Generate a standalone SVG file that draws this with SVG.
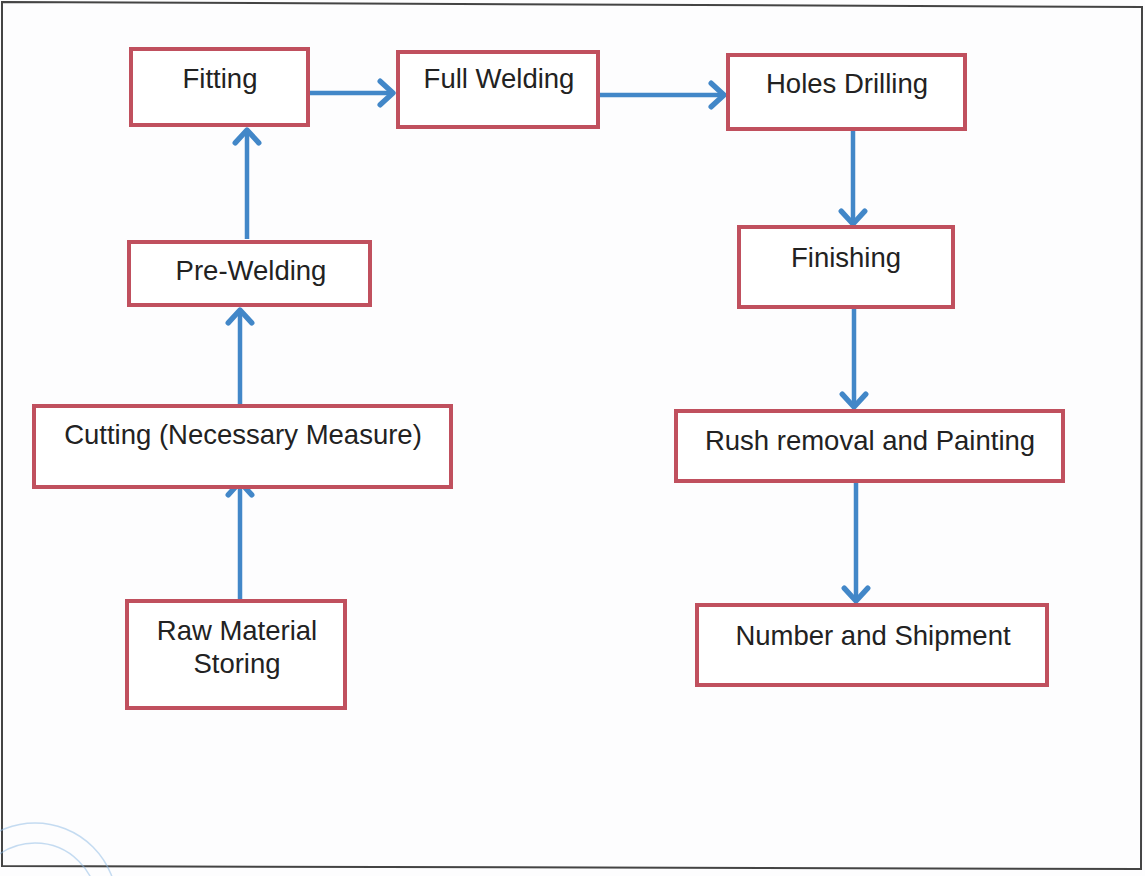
<svg xmlns="http://www.w3.org/2000/svg" width="1145" height="876" viewBox="0 0 1145 876">
<style>
.box{fill:#ffffff;stroke:#c0505e;stroke-width:4}
.lbl{font-family:"Liberation Sans",Arial,sans-serif;font-size:27.5px;fill:#222222;text-anchor:middle}
.conn{stroke:#4287c8;stroke-width:4.5;fill:none}
</style>
<defs>
<marker id="ah" markerWidth="30" markerHeight="30" viewBox="-16 -14 18 28" refX="0" refY="0" orient="auto" markerUnits="userSpaceOnUse">
<path d="M-12,-11 L0,0 L-12,11" fill="none" stroke="#4287c8" stroke-width="5" stroke-linecap="round" stroke-linejoin="round"/>
</marker>
</defs>
<rect width="1145" height="876" fill="#fdfdfe"/>
<polygon points="2,2 1142,7 1141,869 2,866" fill="none" stroke="#444444" stroke-width="2"/>
<g id="stamp" opacity="0.5" fill="none" stroke="#8dbbe6" stroke-width="1.5">
<circle cx="35" cy="905" r="82"/>
<circle cx="35" cy="905" r="62"/>
</g>
<g id="connectors">
<line class="conn" x1="310" y1="93" x2="393" y2="93" marker-end="url(#ah)"/>
<line class="conn" x1="600" y1="95" x2="724" y2="95" marker-end="url(#ah)"/>
<line class="conn" x1="247" y1="239" x2="247" y2="130" marker-end="url(#ah)"/>
<line class="conn" x1="240" y1="404" x2="240" y2="310" marker-end="url(#ah)"/>
<line class="conn" x1="240" y1="599" x2="240" y2="482" marker-end="url(#ah)"/>
<line class="conn" x1="853" y1="131" x2="853" y2="224" marker-end="url(#ah)"/>
<line class="conn" x1="854" y1="309" x2="854" y2="407" marker-end="url(#ah)"/>
<line class="conn" x1="856" y1="483" x2="856" y2="601" marker-end="url(#ah)"/>
</g>
<g id="fitting"><rect class="box" x="131" y="49" width="177" height="76"/><text class="lbl" x="220" y="88">Fitting</text></g>
<g id="full-welding"><rect class="box" x="398" y="52" width="200" height="75"/><text class="lbl" x="499" y="88">Full Welding</text></g>
<g id="holes-drilling"><rect class="box" x="728" y="55" width="237" height="74"/><text class="lbl" x="847" y="93">Holes Drilling</text></g>
<g id="pre-welding"><rect class="box" x="129" y="242" width="241" height="63"/><text class="lbl" x="251" y="280">Pre-Welding</text></g>
<g id="finishing"><rect class="box" x="739" y="227" width="214" height="80"/><text class="lbl" x="846" y="267">Finishing</text></g>
<g id="cutting"><rect class="box" x="34" y="406" width="417" height="81"/><text class="lbl" x="243" y="444">Cutting (Necessary Measure)</text></g>
<g id="rush-removal"><rect class="box" x="676" y="411" width="387" height="70"/><text class="lbl" x="870" y="450">Rush removal and Painting</text></g>
<g id="raw-material"><rect class="box" x="127" y="601" width="218" height="107"/><text class="lbl" x="237" y="640">Raw Material</text><text class="lbl" x="237" y="673">Storing</text></g>
<g id="number-shipment"><rect class="box" x="697" y="605" width="350" height="80"/><text class="lbl" x="873" y="645">Number and Shipment</text></g>
</svg>
